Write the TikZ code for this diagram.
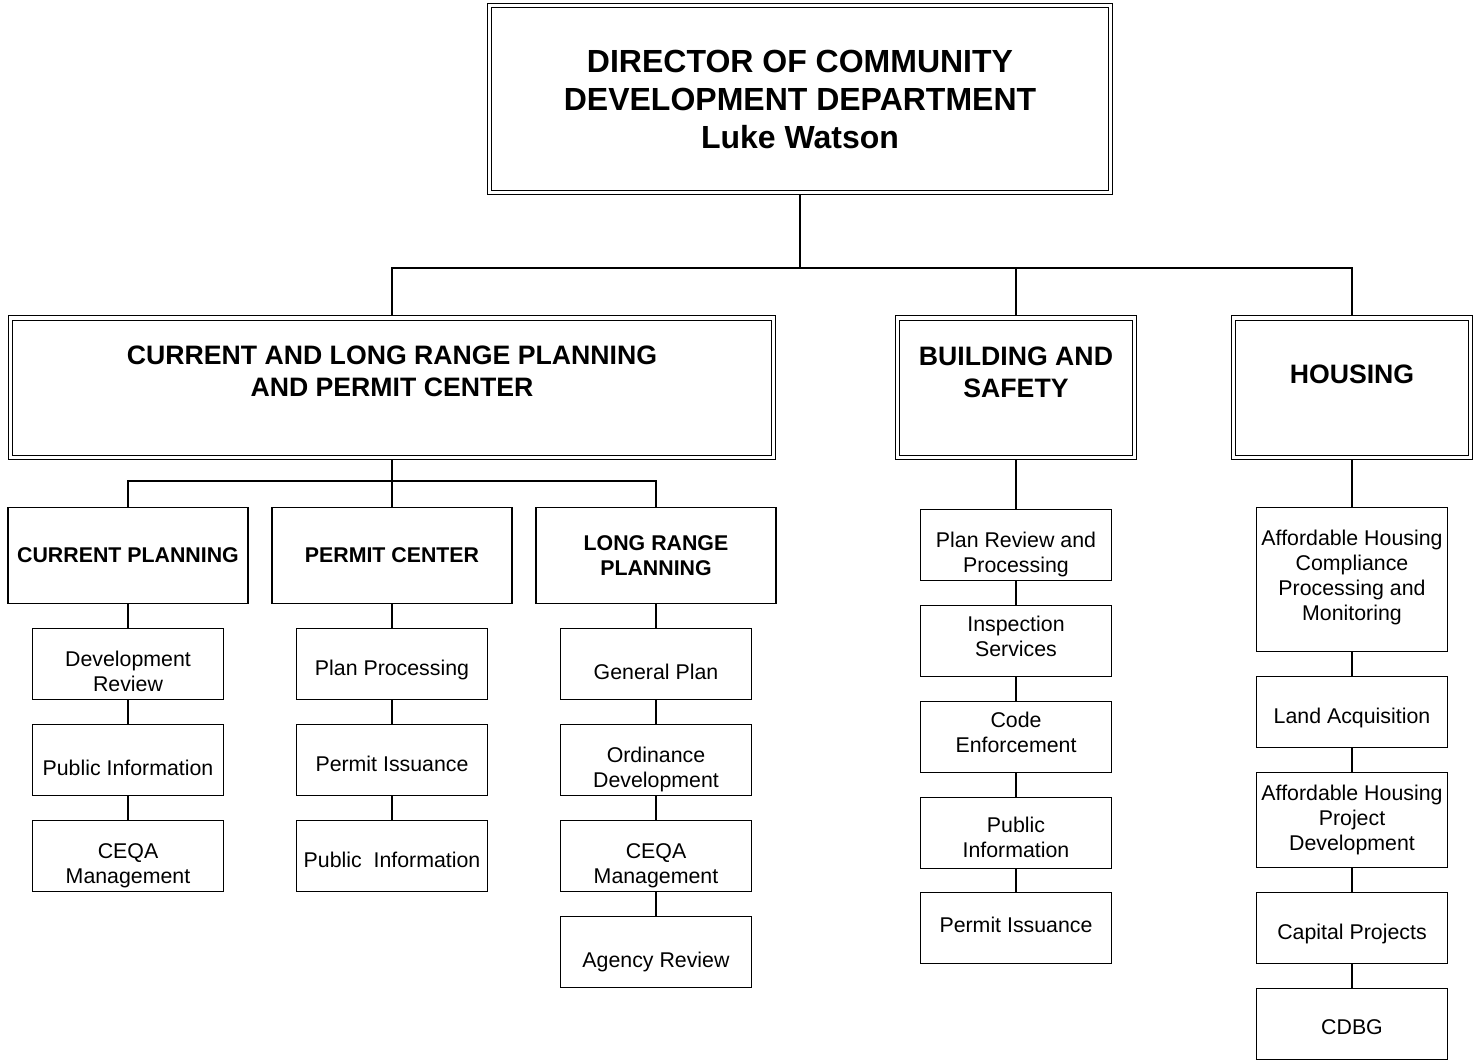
\documentclass[tikz,border=0pt]{standalone}
\usepackage{fontspec}
\setmainfont{Liberation Sans}

\begin{document}
\begin{tikzpicture}[x=0.75pt, y=-0.75pt,
		dbox/.style={draw, double, line width=0.75pt, double distance=2.6pt, outer sep=2.05pt, inner sep=0pt},
		depttext/.style={align=center, font=\fontsize{20}{24}\selectfont\bfseries},
		headbox/.style={draw, line width=1pt, minimum width=179.8pt, minimum height=71.8pt, inner sep=0pt, align=center, font=\fontsize{16}{18.75}\selectfont\bfseries},
		taskbox/.style={draw, line width=1pt, minimum width=143.7pt, minimum height=53pt, inner sep=0pt},
		tasktext/.style={inner sep=0pt, align=center, font=\fontsize{16}{18.75}\selectfont},
		link/.style={line width=1pt}]
		\useasboundingbox (0,0) rectangle (1478,1061);
		
		\node[dbox, minimum width=465.4pt, minimum height=139.9pt, align=center, font=\fontsize{24}{28.5}\selectfont\bfseries] (dir) at (800,99) {DIRECTOR OF COMMUNITY\\DEVELOPMENT DEPARTMENT\\Luke Watson};
		
		\node[dbox, minimum width=572.6pt, minimum height=104.6pt] (clrp) at (392,387.5) {};
		\node[depttext] (clrptext) at (392,371.5) {CURRENT AND LONG RANGE PLANNING\\AND PERMIT CENTER};
		\node[dbox, minimum width=177.4pt, minimum height=104.6pt] (bs) at (1016,387.5) {};
		\node[depttext] (bstext) at (1016,372) {BUILDING AND\\SAFETY};
		\node[dbox, minimum width=177.4pt, minimum height=104.6pt] (hous) at (1352,387.5) {};
		\node[depttext] (houstext) at (1352,374) {HOUSING};
		
		\node[headbox] (cur) at (128,555.5) {CURRENT PLANNING};
		\node[headbox] (pc) at (392,555.5) {PERMIT CENTER};
		\node[headbox] (lrp) at (656,555.5) {LONG RANGE\\PLANNING};
		
		\node[taskbox] (cur1) at (128,664) {};
		\node[tasktext] (cur1text) at (128,671) {Development\\Review};
		\node[taskbox] (cur2) at (128,760) {};
		\node[tasktext] (cur2text) at (128,768) {Public Information};
		\node[taskbox] (cur3) at (128,856) {};
		\node[tasktext] (cur3text) at (128,866) {CEQA\\Management};
		
		\node[taskbox] (pc1) at (392,664) {};
		\node[tasktext] (pc1text) at (392,670) {Plan Processing};
		\node[taskbox] (pc2) at (392,760) {};
		\node[tasktext] (pc2text) at (392,764) {Permit Issuance};
		\node[taskbox] (pc3) at (392,856) {};
		\node[tasktext] (pc3text) at (392,860) {Public\ \ Information};
		
		\node[taskbox] (lrp1) at (656,664) {};
		\node[tasktext] (lrp1text) at (656,672) {General Plan};
		\node[taskbox] (lrp2) at (656,760) {};
		\node[tasktext] (lrp2text) at (656,769) {Ordinance\\Development};
		\node[taskbox] (lrp3) at (656,856) {};
		\node[tasktext] (lrp3text) at (656,866) {CEQA\\Management};
		\node[taskbox] (lrp4) at (656,952) {};
		\node[tasktext] (lrp4text) at (656,962) {Agency Review};
		
		\node[taskbox] (bs1) at (1016,545) {};
		\node[tasktext] (bs1text) at (1016,554) {Plan Review and\\Processing};
		\node[taskbox] (bs2) at (1016,641) {};
		\node[tasktext] (bs2text) at (1016,636) {Inspection\\Services};
		\node[taskbox] (bs3) at (1016,737) {};
		\node[tasktext] (bs3text) at (1016,732) {Code\\Enforcement};
		\node[taskbox] (bs4) at (1016,833) {};
		\node[tasktext] (bs4text) at (1016,837) {Public\\Information};
		\node[taskbox] (bs5) at (1016,928) {};
		\node[tasktext] (bs5text) at (1016,925) {Permit Issuance};
		
		\node[taskbox, minimum height=107.8pt] (hous1) at (1352,579.5) {};
		\node[tasktext] (hous1text) at (1352,577) {Affordable Housing\\Compliance\\Processing and\\Monitoring};
		\node[taskbox] (hous2) at (1352,712) {};
		\node[tasktext] (hous2text) at (1352,718) {Land Acquisition};
		\node[taskbox, minimum height=71pt] (hous3) at (1352,820) {};
		\node[tasktext] (hous3text) at (1352,820) {Affordable Housing\\Project\\Development};
		\node[taskbox] (hous4) at (1352,928) {};
		\node[tasktext] (hous4text) at (1352,934) {Capital Projects};
		\node[taskbox] (hous5) at (1352,1024) {};
		\node[tasktext] (hous5text) at (1352,1027) {CDBG};
		
		\coordinate (topbus) at (800,268);
		\coordinate (midbus) at (392,481);
		
		\draw[link] (dir.south) -- (topbus);
		\draw[link] (clrp.north) |- (topbus) -| (hous.north);
		\draw[link] (bs.north) -- (bs.north |- topbus);
		
		\draw[link] (clrp.south) -- (pc.north);
		\draw[link] (cur.north) |- (midbus) -| (lrp.north);
		
		\draw[link] (cur.south) -- (cur1.north);
		\draw[link] (cur1.south) -- (cur2.north);
		\draw[link] (cur2.south) -- (cur3.north);
		
		\draw[link] (pc.south) -- (pc1.north);
		\draw[link] (pc1.south) -- (pc2.north);
		\draw[link] (pc2.south) -- (pc3.north);
		
		\draw[link] (lrp.south) -- (lrp1.north);
		\draw[link] (lrp1.south) -- (lrp2.north);
		\draw[link] (lrp2.south) -- (lrp3.north);
		\draw[link] (lrp3.south) -- (lrp4.north);
		
		\draw[link] (bs.south) -- (bs1.north);
		\draw[link] (bs1.south) -- (bs2.north);
		\draw[link] (bs2.south) -- (bs3.north);
		\draw[link] (bs3.south) -- (bs4.north);
		\draw[link] (bs4.south) -- (bs5.north);
		
		\draw[link] (hous.south) -- (hous1.north);
		\draw[link] (hous1.south) -- (hous2.north);
		\draw[link] (hous2.south) -- (hous3.north);
		\draw[link] (hous3.south) -- (hous4.north);
		\draw[link] (hous4.south) -- (hous5.north);
		
\end{tikzpicture}
\end{document}
